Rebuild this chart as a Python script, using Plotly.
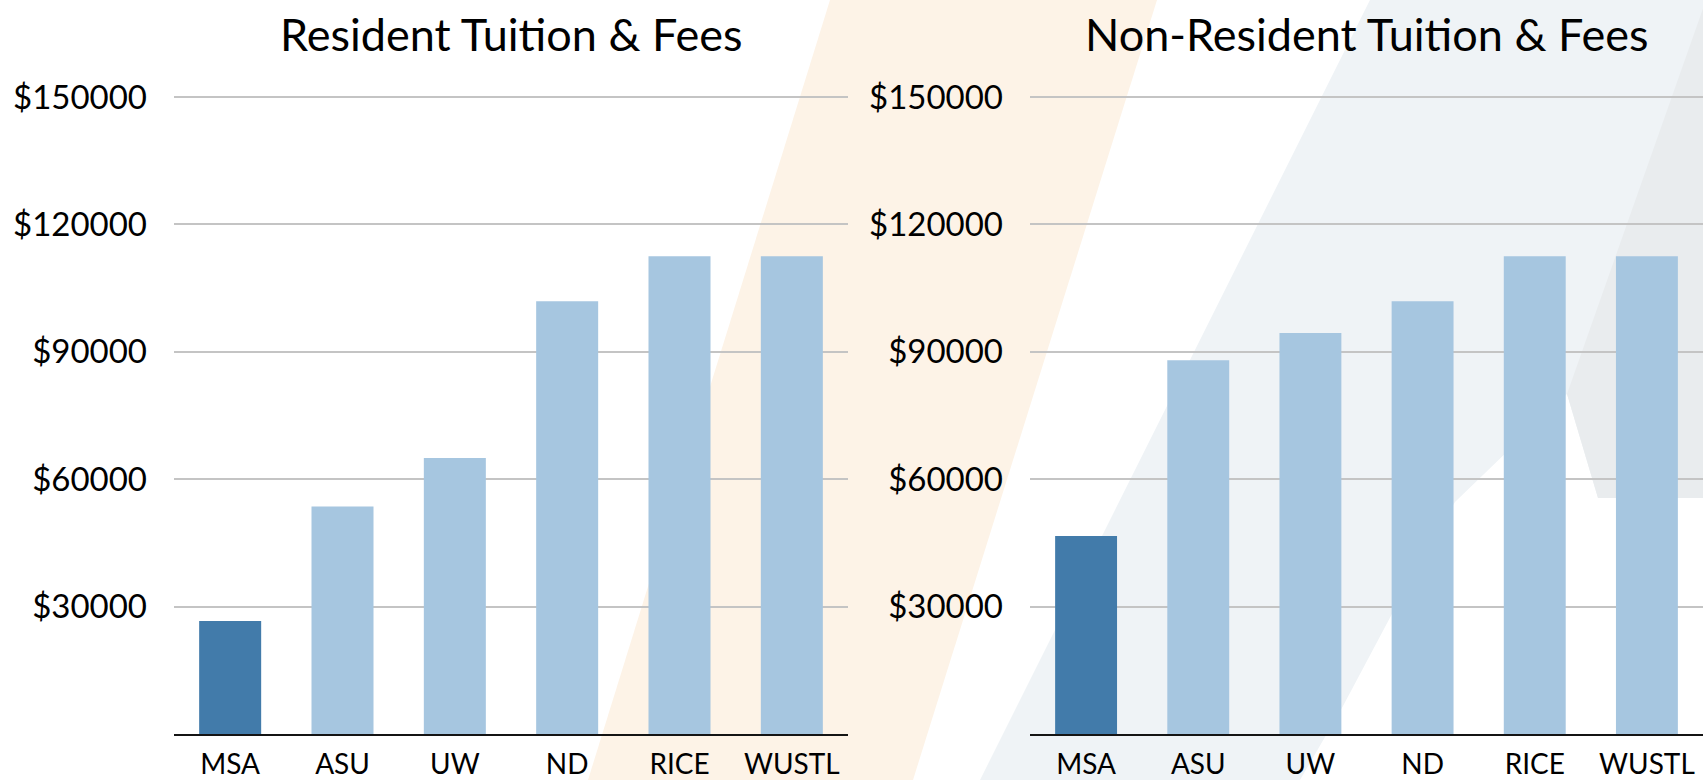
import plotly.graph_objects as go

# ---- data ----
categories = ["MSA", "ASU", "UW", "ND", "RICE", "WUSTL"]
resident_fees = [26600, 53600, 65000, 101900, 112500, 112500]
nonresident_fees = [46600, 88000, 94400, 101900, 112500, 112500]
highlight = "MSA"
chart_titles = ["Resident Tuition & Fees", "Non-Resident Tuition & Fees"]
y_tick_values = [30000, 60000, 90000, 120000, 150000]
y_tick_labels = ["$30000", "$60000", "$90000", "$120000", "$150000"]
y_max = 151000

# ---- layout helpers (pixel -> paper) ----
W, H = 1703, 780
def px(x):
    return x / W
def py(y):
    return 1 - y / H

DARK = "#427BAA"
LIGHT = "#A6C6E0"
FONT = "Lato"
colors = [DARK if c == highlight else LIGHT for c in categories]

fig = go.Figure()
fig.add_trace(go.Bar(x=categories, y=resident_fees, marker=dict(color=colors, line=dict(width=0)),
                     xaxis="x", yaxis="y", showlegend=False))
fig.add_trace(go.Bar(x=categories, y=nonresident_fees, marker=dict(color=colors, line=dict(width=0)),
                     xaxis="x2", yaxis="y2", showlegend=False))

xcommon = dict(showline=True, linecolor="#141414", linewidth=2, ticks="", showgrid=False,
               automargin=False, ticklabelstandoff=4,
               tickfont=dict(family=FONT, size=28, color="#000"), fixedrange=True)
ycommon = dict(range=[0, y_max], tickmode="array", tickvals=y_tick_values, ticktext=y_tick_labels,
               showgrid=True, gridcolor="#C4C4C4", gridwidth=2, zeroline=False, showline=False,
               automargin=False,
               ticks="", tickfont=dict(family=FONT, size=33, color="#000"), ticklabelstandoff=26,
               fixedrange=True)

# pixel rows: 0 at y=734, 150000 gridline at y=97
plot_bottom = 734
px_per_unit = (734 - 97) / 150000
plot_top = plot_bottom - y_max * px_per_unit
left_x = (174, 848)
right_x = (1030, 1703)

fig.update_layout(
    width=W, height=H, autosize=False,
    margin=dict(l=0, r=0, t=0, b=0, pad=0),
    paper_bgcolor="#FFFFFF", plot_bgcolor="rgba(0,0,0,0)",
    bargap=0.448,
    font=dict(family=FONT, color="#000"),
    xaxis=dict(domain=[px(left_x[0]), px(left_x[1])], anchor="y", **xcommon),
    yaxis=dict(domain=[py(plot_bottom), py(plot_top)], anchor="x", **ycommon),
    xaxis2=dict(domain=[px(right_x[0]), 1.0], anchor="y2", **xcommon),
    yaxis2=dict(domain=[py(plot_bottom), py(plot_top)], anchor="x2", **ycommon),
)

# titles
for title, (a, b) in zip(chart_titles, [left_x, right_x]):
    fig.add_annotation(text=title, x=px((a + b) / 2), y=py(34), xref="paper", yref="paper",
                       xanchor="center", yanchor="middle", showarrow=False,
                       font=dict(family=FONT, size=45, color="#000"))

# faint slide background decoration
def poly(points):
    return "M " + " L ".join(f"{px(x):.5f},{py(y):.5f}" for x, y in points) + " Z"

bg_shapes = [
    ([(830, 0), (1157, 0), (913, 780), (588, 780)], "#FDF3E7"),
    ([(1370, 0), (1703, 0), (1703, 498), (1598, 498), (1567, 394), (1455, 502),
      (1393, 612), (1343, 706), (1300, 780), (980, 780)], "#EFF3F6"),
    ([(1706, 0), (1567, 394), (1598, 498), (1703, 498)], "#E9ECEE"),
]
for pts, col in bg_shapes:
    fig.add_shape(type="path", path=poly(pts), xref="paper", yref="paper",
                  fillcolor=col, line=dict(width=0), layer="below")

fig.write_html("out.html", config={"displayModeBar": False},
               post_script="document.body.style.margin='0';document.body.style.overflow='hidden';")
